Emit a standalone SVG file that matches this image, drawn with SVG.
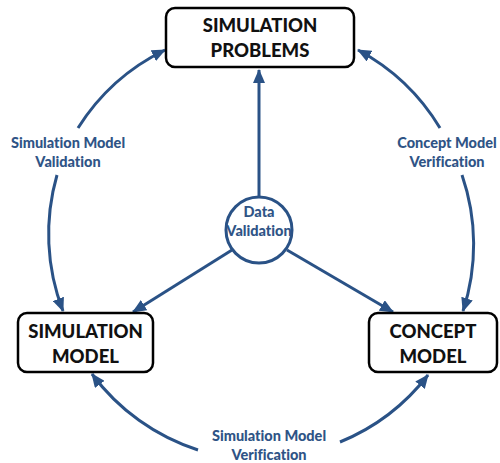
<svg xmlns="http://www.w3.org/2000/svg" width="500" height="463" viewBox="0 0 500 463">
<defs>
<style>
.box{fill:#fff;stroke:#000;stroke-width:2.5}
.bt{font-family:Lato,"Open Sans",sans-serif;font-weight:900;font-size:18.5px;fill:#111;text-anchor:middle;font-variant-ligatures:none}
.lt{font-family:Lato,"Open Sans",sans-serif;font-weight:900;font-size:14.5px;fill:#2F5486;text-anchor:middle;font-variant-ligatures:none}
.ln{fill:none;stroke:#2A5286;stroke-width:3}
</style>
<marker id="ah" markerUnits="userSpaceOnUse" markerWidth="14" markerHeight="12" viewBox="0 0 14 12" refX="13" refY="6" orient="auto">
<path d="M0,0 L14,6 L0,12 Z" fill="#2A5286"/>
</marker>
</defs>
<g id="connectors">
<path class="ln" d="M259,197 L259,70" marker-end="url(#ah)"/>
<path class="ln" d="M232,250 L133,312" marker-end="url(#ah)"/>
<path class="ln" d="M287,250 L393,312" marker-end="url(#ah)"/>
<path class="ln" d="M78,128 A213,213 0 0 1 165,50" marker-end="url(#ah)"/>
<path class="ln" d="M57,175 A213,213 0 0 0 63,311" marker-end="url(#ah)"/>
<path class="ln" d="M440,128 A213,213 0 0 0 358,50" marker-end="url(#ah)"/>
<path class="ln" d="M462,175 A213,213 0 0 1 463,311" marker-end="url(#ah)"/>
<path class="ln" d="M198,450 A213,213 0 0 1 92,374" marker-end="url(#ah)"/>
<path class="ln" d="M340,442 A213,213 0 0 0 428,375" marker-end="url(#ah)"/>
</g>
<g id="labels">
<text class="lt" x="68" y="148">Simulation Model</text>
<text class="lt" x="68" y="167">Validation</text>
<text class="lt" x="447" y="148">Concept Model</text>
<text class="lt" x="447" y="167">Verification</text>
<text class="lt" x="269" y="441">Simulation Model</text>
<text class="lt" x="269" y="460">Verification</text>
</g>
<g id="simulation-problems">
<rect class="box" x="166" y="8" width="188" height="59" rx="9"/>
<text class="bt" x="260" y="32">SIMULATION</text>
<text class="bt" x="260" y="57">PROBLEMS</text>
</g>
<g id="data-validation">
<circle cx="259" cy="230" r="33" fill="#fff" stroke="#2A5286" stroke-width="3"/>
<text class="lt" x="259" y="217">Data</text>
<text class="lt" x="259" y="236">Validation</text>
</g>
<g id="simulation-model">
<rect class="box" x="18" y="313" width="135" height="59" rx="9"/>
<text class="bt" x="85.5" y="338">SIMULATION</text>
<text class="bt" x="85.5" y="363">MODEL</text>
</g>
<g id="concept-model">
<rect class="box" x="369" y="313" width="128" height="59" rx="9"/>
<text class="bt" x="433" y="338">CONCEPT</text>
<text class="bt" x="433" y="363">MODEL</text>
</g>
</svg>
